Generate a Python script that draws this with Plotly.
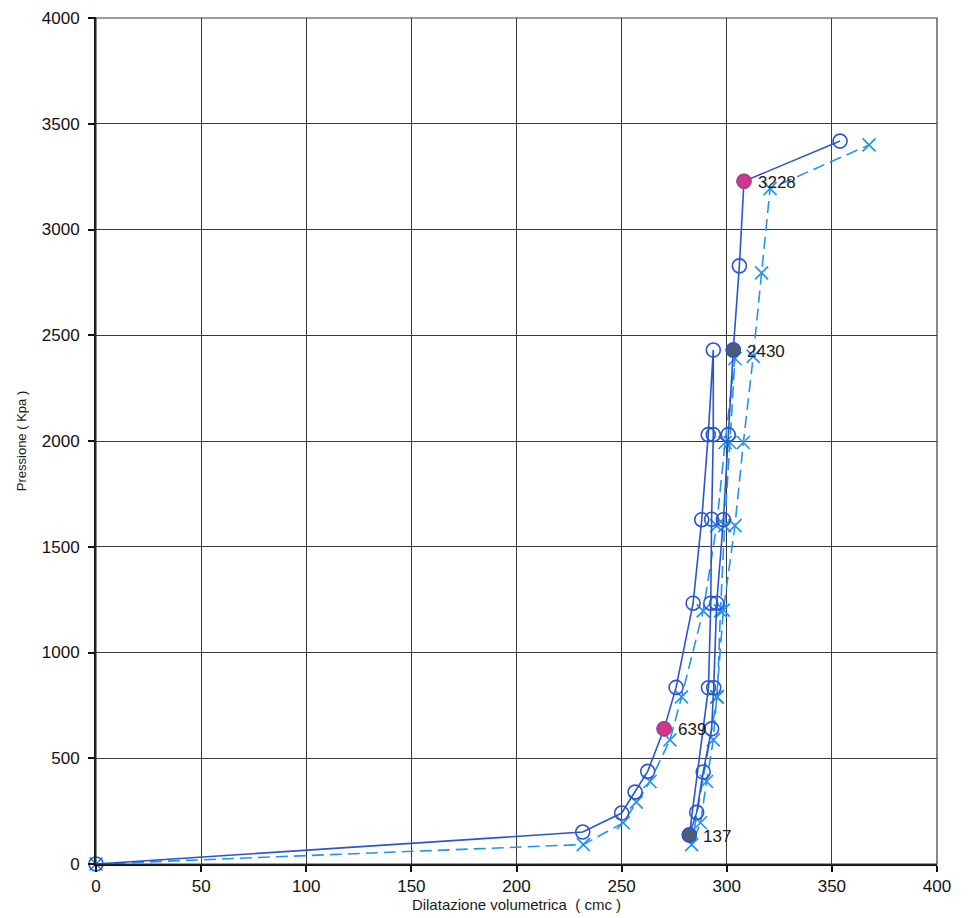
import plotly.graph_objects as go

# Circle series (solid line): loading, unloading, reloading
circ_x = [0, 231.5, 250, 256.4, 262.4, 270.2, 275.9, 284, 288.1, 291.2, 293.6,
          293.6, 292.8, 292.4, 291.3, 282.2,
          285.7, 288.8, 292.8, 293.8, 295.2, 298.4, 300.7, 303.1, 306, 308.2, 353.9]
circ_y = [0, 151, 241, 340, 438, 639, 835, 1233, 1628, 2030, 2430,
          2030, 1630, 1233, 833, 137,
          244, 435, 639, 833, 1233, 1628, 2030, 2430, 2828, 3228, 3418]

# Cross series (dashed line)
cross_x = [0, 231.8, 250.8, 257, 263.5, 273, 278.5, 288.8, 295.2, 299.2, 303.9,
           301.5, 299, 297, 295.5, 283.3,
           287.5, 290.4, 293.6, 295.2, 298.4, 303.9, 307.9, 312.6, 316.6, 320.6, 367.7]
cross_y = [0, 92, 195, 293, 390, 587, 790, 1197, 1600, 1993, 2390,
           1993, 1600, 1197, 790, 92,
           195, 390, 587, 790, 1200, 1600, 1993, 2400, 2795, 3193, 3400]

# Highlighted points
pink_x = [270.2, 308.2]
pink_y = [639, 3228]
grey_x = [282.2, 303.1]
grey_y = [137, 2430]

label_x = [270.2, 308.2, 282.2, 303.1]
label_y = [639, 3228, 137, 2430]
label_text = ["639", "3228", "137", "2430"]

x_ticks = [0, 50, 100, 150, 200, 250, 300, 350, 400]
y_ticks = [0, 500, 1000, 1500, 2000, 2500, 3000, 3500, 4000]

SOLID = "#2a55cf"
DASHED = "#2593ec"

fig = go.Figure()

fig.add_trace(go.Scatter(
    x=cross_x, y=cross_y, mode="lines+markers", cliponaxis=False,
    line=dict(color=DASHED, width=1.6, dash="12px,6px"),
    marker=dict(symbol="x-thin-open", size=13, line=dict(color=DASHED, width=1.7)),
    hoverinfo="skip", showlegend=False))

fig.add_trace(go.Scatter(
    x=circ_x, y=circ_y, mode="lines+markers", cliponaxis=False,
    line=dict(color=SOLID, width=1.6),
    marker=dict(symbol="circle-open", size=14, line=dict(color=SOLID, width=1.6)),
    hoverinfo="skip", showlegend=False))

fig.add_trace(go.Scatter(
    x=pink_x, y=pink_y, mode="markers",
    marker=dict(symbol="circle", size=14, color="#d2358c", line=dict(color="#c2307e", width=1)),
    hoverinfo="skip", showlegend=False))

fig.add_trace(go.Scatter(
    x=grey_x, y=grey_y, mode="markers",
    marker=dict(symbol="circle", size=14, color="#4e5d74", line=dict(color=SOLID, width=1.6)),
    hoverinfo="skip", showlegend=False))

for lx, ly, lt in zip(label_x, label_y, label_text):
    fig.add_annotation(x=lx, y=ly, text=lt, showarrow=False, xanchor="left",
                       yanchor="middle", xshift=12, yshift=-1,
                       font=dict(family="Liberation Sans, Arial", size=17, color="#1a1a1a"))

axis_font = dict(family="Liberation Sans, Arial", size=17, color="#111")

fig.update_xaxes(
    range=[0, 400], tickvals=x_ticks, ticktext=[str(v) for v in x_ticks],
    showgrid=True, gridcolor="#3a3a3a", gridwidth=1,
    showline=True, linecolor="#111", linewidth=2, mirror=False,
    ticks="outside", ticklen=6, tickcolor="#111", tickwidth=2,
    ticklabeloverflow="allow",
    zeroline=False, tickfont=axis_font, automargin=False,
    title=dict(text="Dilatazione volumetrica  ( cmc )", standoff=0,
               font=dict(family="Liberation Sans, Arial", size=15, color="#1a1a1a")))

fig.update_yaxes(
    range=[0, 4000], tickvals=y_ticks, ticktext=[str(v) for v in y_ticks],
    showgrid=True, gridcolor="#3a3a3a", gridwidth=1,
    showline=True, linecolor="#111", linewidth=2, mirror=False,
    ticks="outside", ticklen=6, tickcolor="#111", tickwidth=2,
    ticklabelstandoff=5, ticklabeloverflow="allow",
    zeroline=False, tickfont=axis_font, automargin=False,
    title=dict(text="Pressione ( Kpa )", standoff=12,
               font=dict(family="Liberation Sans, Arial", size=13, color="#1a1a1a")))

# plot-area border (top/right grid edges)
fig.add_shape(type="rect", xref="paper", yref="paper", x0=0, y0=0, x1=1, y1=1,
              line=dict(color="#3a3a3a", width=1.2), layer="above")
# short tick at the top of the y axis (4000)
fig.add_shape(type="line", xref="paper", yref="paper", x0=-0.007, x1=0,
              y0=1, y1=1, line=dict(color="#111", width=2))
# scan edge line on the far right
fig.add_shape(type="line", xref="paper", yref="paper", x0=1.0333, x1=1.0333,
              y0=-0.065, y1=1.02, line=dict(color="#555", width=1.2))

fig.update_layout(
    width=969, height=918,
    margin=dict(l=88, r=40, t=10, b=62),
    paper_bgcolor="white", plot_bgcolor="white",
    font=dict(family="Liberation Sans, Arial"),
)

fig.write_html("out.html")
